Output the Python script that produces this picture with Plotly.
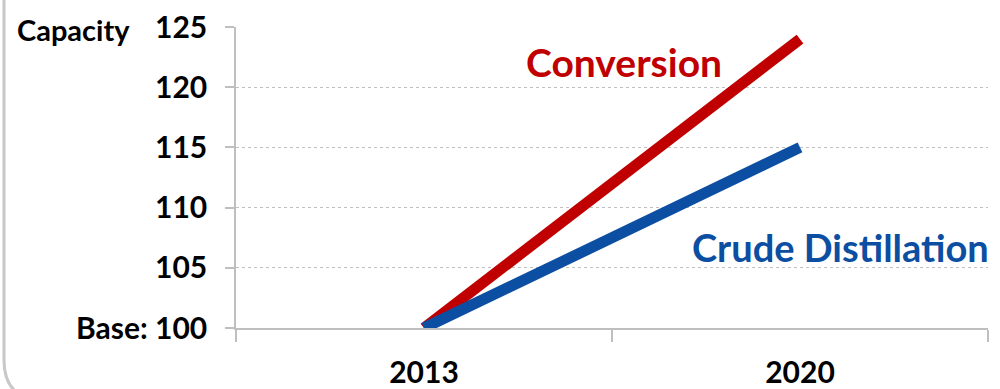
import plotly.graph_objects as go

years = ["2013", "2020"]
conversion = [100, 124]
crude_distillation = [100, 115]
y_ticks = [100, 105, 110, 115, 120, 125]
y_tick_labels = ["Base: 100", "105", "110", "115", "120", "125"]

W, H = 1000, 389
L, R, T, B = 236, 12, 27, 61
PW, PH = W - L - R, H - T - B
def px(x):
    return (x - L) / PW
def py(y):
    return (H - B - y) / PH

FONT = "Lato, Open Sans, sans-serif"
RED = "#C00000"
BLUE = "#0B4EA2"
GRID = "#BFBFBF"

fig = go.Figure()
fig.add_trace(go.Scatter(x=years, y=conversion, mode="lines",
                         line=dict(color=RED, width=11), showlegend=False,
                         name="Conversion"))
fig.add_trace(go.Scatter(x=years, y=crude_distillation, mode="lines",
                         line=dict(color=BLUE, width=11), showlegend=False,
                         name="Crude Distillation"))

fig.update_layout(
    width=W, height=H, autosize=False,
    margin=dict(l=L, r=R, t=T, b=B, autoexpand=False),
    paper_bgcolor="white", plot_bgcolor="white",
    font=dict(family=FONT, color="black"),
    showlegend=False,
    xaxis=dict(
        type="category", range=[-0.5, 1.5], automargin=False,
        showgrid=False, zeroline=False,
        showline=True, linecolor=GRID, linewidth=1.5,
        ticks="outside", tickson="boundaries", ticklen=12, tickcolor=GRID,
        tickwidth=1.5,
        tickfont=dict(family=FONT, size=30, color="black", weight="bold"),
        ticklabelstandoff=17,
    ),
    yaxis=dict(
        range=[100, 125], automargin=False,
        tickvals=y_ticks, ticktext=y_tick_labels,
        showgrid=True, gridcolor=GRID, griddash="3px,3px", gridwidth=1,
        zeroline=False,
        showline=True, linecolor=GRID, linewidth=1.5,
        ticks="outside", ticklen=9, tickcolor=GRID, tickwidth=1.5,
        tickfont=dict(family=FONT, size=30, color="black", weight="bold"),
        ticklabelstandoff=12,
    ),
)

fig.add_annotation(xref="paper", yref="paper", x=px(73), y=py(29),
                   text="Capacity", showarrow=False, xanchor="center", yanchor="middle",
                   font=dict(family=FONT, size=29, color="black", weight="bold"))
fig.add_annotation(xref="paper", yref="paper", x=px(624), y=py(62),
                   text="Conversion", showarrow=False, xanchor="center", yanchor="middle",
                   font=dict(family=FONT, size=39, color=RED, weight="bold"))
fig.add_annotation(xref="paper", yref="paper", x=px(840), y=py(247),
                   text="Crude Distillation", showarrow=False, xanchor="center", yanchor="middle",
                   font=dict(family=FONT, size=38, color=BLUE, weight="bold"))

# rounded grey frame on the left / bottom
r = 40
path = (f"M {px(4)},{py(-5)} L {px(4)},{py(400 - r)} "
        f"Q {px(4)},{py(400)} {px(4 + r)},{py(400)} L {px(995)},{py(400)}")
fig.add_shape(type="path", xref="paper", yref="paper", path=path,
              line=dict(color="#C8C8C8", width=3))

fig.write_html("out.html",
               config={"displayModeBar": False},
               post_script="document.body.style.margin='0';document.body.style.overflow='hidden';")
